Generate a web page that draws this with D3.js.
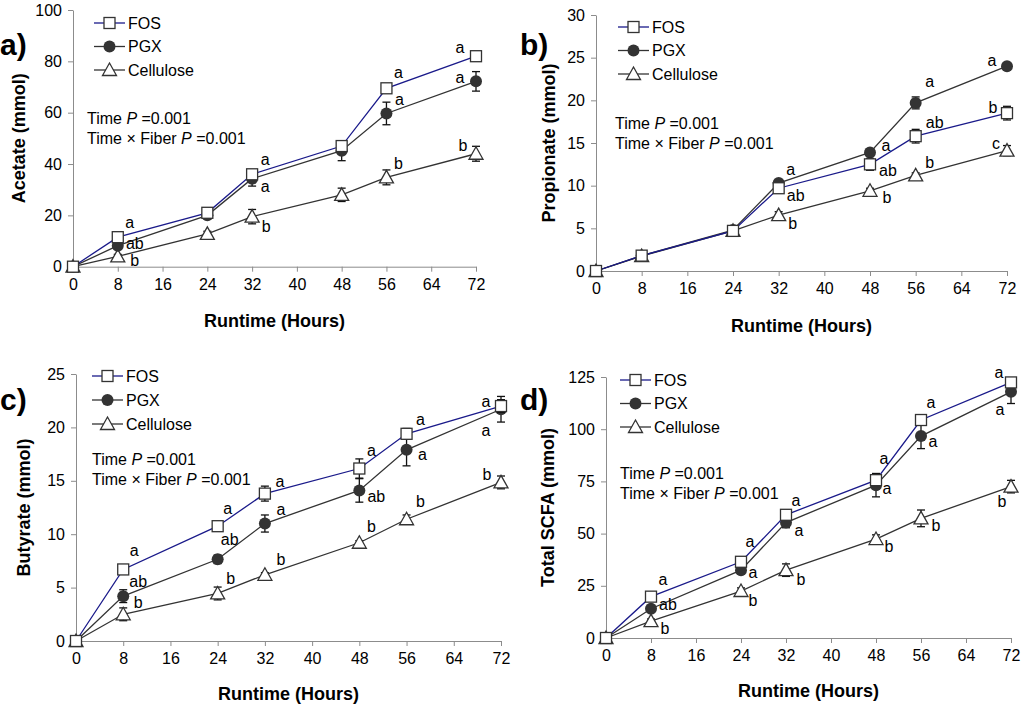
<!DOCTYPE html>
<html>
<head>
<meta charset="utf-8">
<script src="https://cdn.jsdelivr.net/npm/d3@7"></script>
<style>
    body { margin: 0; background: #fff; }
    svg { display: block; font-family: "Liberation Sans", Arial, sans-serif; }
    .axis path, .axis line { stroke: #8c8c8c; }
    .axis text { font-size: 16px; fill: #000; font-family: "Liberation Sans", Arial, sans-serif; }
</style>
</head>
<body>
<script>
// =======================
// Data
// =======================
var hours = [0, 8, 24, 32, 48, 56, 72];
var xTicks = [0, 8, 16, 24, 32, 40, 48, 56, 64, 72];
var seriesNames = ["FOS", "PGX", "Cellulose"];

// a) acetate
var acetateFOS = [0, 11.5, 21, 36, 47, 69.5, 82];
var acetateFOSErr = [0, 0.8, 0.8, 1, 1.5, 1, 0.8];
var acetatePGX = [0, 8.2, 20, 34.3, 45.2, 59.7, 72.2];
var acetatePGXErr = [0, 1, 1, 2.9, 3.9, 4.4, 3.8];
var acetateCel = [0, 4, 12.8, 19.5, 28, 34.8, 44];
var acetateCelErr = [0, 0.8, 1, 2.8, 2.6, 2.9, 2.9];
var acetateTicks = [0, 20, 40, 60, 80, 100];
var acetateLetters = [
    [null, "a", null, "a", null, "a", "a"],
    [null, "ab", null, "a", null, "a", "a"],
    [null, "b", null, "b", null, "b", "b"]
];

// b) propionate
var propFOS = [0, 1.8, 4.7, 9.7, 12.5, 15.8, 18.5];
var propFOSErr = [0, 0.2, 0.2, 0.5, 0.7, 0.8, 0.8];
var propPGX = [0, 1.8, 4.8, 10.3, 13.9, 19.7, 24.0];
var propPGXErr = [0, 0.2, 0.2, 0.3, 0.4, 0.7, 0.3];
var propCel = [0, 1.75, 4.7, 6.55, 9.4, 11.2, 14.1];
var propCelErr = [0, 0.2, 0.2, 0.4, 0.3, 0.3, 0.6];
var propTicks = [0, 5, 10, 15, 20, 25, 30];
var propLetters = [
    [null, null, null, "ab", "ab", "ab", "b"],
    [null, null, null, "a", "a", "a", "a"],
    [null, null, null, "b", "b", "b", "c"]
];

// c) butyrate
var butFOS = [0, 6.7, 10.75, 13.8, 16.15, 19.4, 22];
var butFOSErr = [0, 0.2, 0.2, 0.7, 0.9, 0.5, 0.6];
var butPGX = [0, 4.2, 7.65, 11, 14.1, 17.9, 21.7];
var butPGXErr = [0, 0.6, 0.4, 0.8, 1.1, 1.5, 1.2];
var butCel = [0, 2.5, 4.45, 6.2, 9.2, 11.4, 14.85];
var butCelErr = [0, 0.6, 0.6, 0.2, 0.2, 0.4, 0.6];
var butTicks = [0, 5, 10, 15, 20, 25];
var butLetters = [
    [null, "a", "a", "a", "a", "a", "a"],
    [null, "ab", "ab", "a", "ab", "a", "a"],
    [null, "b", "b", "b", "b", "b", "b"]
];

// d) total SCFA
var totFOS = [0, 19.8, 36.5, 59, 75.6, 104.4, 122.4];
var totFOSErr = [0, 1, 1, 1.5, 2, 1.5, 1.5];
var totPGX = [0, 14, 32.5, 55.3, 73.2, 96.7, 117.9];
var totPGXErr = [0, 1.5, 1.5, 2.5, 5.6, 6, 5.6];
var totCel = [0, 8.1, 22.5, 32.5, 47.4, 57.3, 72.5];
var totCelErr = [0, 1, 1.5, 3, 2, 4, 3];
var totTicks = [0, 25, 50, 75, 100, 125];
var totLetters = [
    [null, "a", "a", "a", "a", "a", "a"],
    [null, "ab", "a", "a", "a", "a", "a"],
    [null, "b", "b", "b", "b", "b", "b"]
];

// =======================
// Letter placement (pixel offsets from each point)
// =======================
var acetateLetterPos = [
    [null, [12, -15], null, [13, -15], null, [12, -16], [-16, -9]],
    [null, [17, -2], null, [13, 8], null, [13, -14], [-16, -4]],
    [null, [17, 4], null, [14, 10], null, [12, -14], [-13, -8]]
];
var propLetterPos = [
    [null, null, null, [17, 7], [18, 6], [19, -14], [-14, -6]],
    [null, null, null, [12, -14], [16, -7], [14, -21], [-15, -6]],
    [null, null, null, [14, 8], [17, 7], [14, -13], [-11, -7]]
];
var butLetterPos = [
    [null, [11, -19], [10, -18], [15, -12], [12, -18], [14, -14], [-15, -5]],
    [null, [15, -15], [12, -20], [16, -14], [17, 6], [16, 5], [-15, 21]],
    [null, [15, -12], [13, -15], [16, -15], [12, -16], [14, -18], [-14, -8]]
];
var totLetterPos = [
    [null, [12, -17], [9, -20], [10, -14], [8, -22], [10, -18], [-12, -10]],
    [null, [17, -4], [12, 2], [13, 8], [11, 3], [12, 5], [-11, 18]],
    [null, [14, 7], [12, 9], [15, 9], [13, 7], [15, 7], [-9, 15]]
];

window.onload = function(){

    // =======================
    // SVG container
    // =======================
    var w = 1024,
        h = 709;

    var svg = d3.select("body")
        .append("svg")
        .attr("width", w)
        .attr("height", h);

    var lineColors = ["#1a1a8a", "#333333", "#333333"];

    // =======================
    // Panels
    // =======================
    var panels = [
        {
            tag: "a)", yTitle: "Acetate (mmol)", yTicks: acetateTicks,
            x0: 73, x1: 476, yTop: 10, yBot: 266.7,
            series: [acetateFOS, acetatePGX, acetateCel],
            errs: [acetateFOSErr, acetatePGXErr, acetateCelErr],
            letters: acetateLetters, letterPos: acetateLetterPos,
            tagX: 0, tagY: 55, yTitleX: 25, xTitleY: 327,
            legX: 94, legY: 23, legStep: 23.5, statX: 87, statY: 124
        },
        {
            tag: "b)", yTitle: "Propionate (mmol)", yTicks: propTicks,
            x0: 596, x1: 1007, yTop: 15, yBot: 271,
            series: [propFOS, propPGX, propCel],
            errs: [propFOSErr, propPGXErr, propCelErr],
            letters: propLetters, letterPos: propLetterPos,
            tagX: 520, tagY: 55, yTitleX: 555, xTitleY: 332,
            legX: 618, legY: 27, legStep: 23.5, statX: 615, statY: 129
        },
        {
            tag: "c)", yTitle: "Butyrate (mmol)", yTicks: butTicks,
            x0: 76, x1: 501, yTop: 374, yBot: 641,
            series: [butFOS, butPGX, butCel],
            errs: [butFOSErr, butPGXErr, butCelErr],
            letters: butLetters, letterPos: butLetterPos,
            tagX: 0, tagY: 410, yTitleX: 30, xTitleY: 700,
            legX: 92, legY: 376, legStep: 24, statX: 92, statY: 465
        },
        {
            tag: "d)", yTitle: "Total SCFA (mmol)", yTicks: totTicks,
            x0: 606, x1: 1011, yTop: 377, yBot: 638,
            series: [totFOS, totPGX, totCel],
            errs: [totFOSErr, totPGXErr, totCelErr],
            letters: totLetters, letterPos: totLetterPos,
            tagX: 520, tagY: 410, yTitleX: 554, xTitleY: 697,
            legX: 620, legY: 380, legStep: 23.5, statX: 620, statY: 479
        }
    ];

    panels.forEach(function(p){
        var g = svg.append("g");
        var yMax = p.yTicks[p.yTicks.length - 1];

        var x = d3.scaleLinear().domain([0, 72]).range([p.x0, p.x1]);
        var y = d3.scaleLinear().domain([0, yMax]).range([p.yBot, p.yTop]);

        // axes
        g.append("g")
            .attr("class", "axis")
            .attr("transform", "translate(0," + p.yBot + ")")
            .call(d3.axisBottom(x).tickValues(xTicks).tickSize(5).tickSizeOuter(0).tickPadding(7));

        g.append("g")
            .attr("class", "axis")
            .attr("transform", "translate(" + p.x0 + ",0)")
            .call(d3.axisLeft(y).tickValues(p.yTicks).tickSize(5).tickSizeOuter(0).tickPadding(6));

        // axis titles
        g.append("text")
            .attr("x", (p.x0 + p.x1) / 2)
            .attr("y", p.xTitleY)
            .attr("text-anchor", "middle")
            .style("font-size", "18px")
            .style("font-weight", "bold")
            .text("Runtime (Hours)");

        g.append("text")
            .attr("transform", "translate(" + p.yTitleX + "," + ((p.yTop + p.yBot) / 2) + ") rotate(-90)")
            .attr("text-anchor", "middle")
            .style("font-size", "18px")
            .style("font-weight", "bold")
            .text(p.yTitle);

        // panel tag
        g.append("text")
            .attr("x", p.tagX)
            .attr("y", p.tagY)
            .style("font-size", "30px")
            .style("font-weight", "bold")
            .text(p.tag);

        // stats text
        var st1 = g.append("text").attr("x", p.statX).attr("y", p.statY).style("font-size", "16px");
        st1.append("tspan").text("Time ");
        st1.append("tspan").style("font-style", "italic").text("P");
        st1.append("tspan").text(" =0.001");
        var st2 = g.append("text").attr("x", p.statX).attr("y", p.statY + 20).style("font-size", "16px");
        st2.append("tspan").text("Time \u00d7 Fiber ");
        st2.append("tspan").style("font-style", "italic").text("P");
        st2.append("tspan").text(" =0.001");

        // lines, error bars, markers (drawn back to front: Cellulose, PGX, FOS)
        [2, 1, 0].forEach(function(s){
            var vals = p.series[s];
            var errs = p.errs[s];
            var pts = hours.map(function(hr, i){ return { h: hr, v: vals[i], e: errs[i], i: i }; });

            g.append("path")
                .datum(pts)
                .attr("fill", "none")
                .attr("stroke", lineColors[s])
                .attr("stroke-width", 1.3)
                .attr("d", d3.line().x(function(d){ return x(d.h); }).y(function(d){ return y(d.v); }));

            var eb = g.selectAll(".eb" + s)
                .data(pts.filter(function(d){ return d.e > 0; }))
                .enter()
                .append("g")
                .attr("stroke", "#111")
                .attr("stroke-width", 1.3);
            eb.append("line")
                .attr("x1", function(d){ return x(d.h); })
                .attr("x2", function(d){ return x(d.h); })
                .attr("y1", function(d){ return y(d.v - d.e); })
                .attr("y2", function(d){ return y(d.v + d.e); });
            eb.append("line")
                .attr("x1", function(d){ return x(d.h) - 4; })
                .attr("x2", function(d){ return x(d.h) + 4; })
                .attr("y1", function(d){ return y(d.v + d.e); })
                .attr("y2", function(d){ return y(d.v + d.e); });
            eb.append("line")
                .attr("x1", function(d){ return x(d.h) - 4; })
                .attr("x2", function(d){ return x(d.h) + 4; })
                .attr("y1", function(d){ return y(d.v - d.e); })
                .attr("y2", function(d){ return y(d.v - d.e); });

            pts.forEach(function(d){
                drawMarker(g, s, x(d.h), y(d.v));
            });
        });

        // significance letters
        [0, 1, 2].forEach(function(s){
            hours.forEach(function(hr, i){
                var l = p.letters[s][i];
                if (!l) return;
                var off = p.letterPos[s][i];
                g.append("text")
                    .attr("x", x(hr) + off[0])
                    .attr("y", y(p.series[s][i]) + off[1])
                    .attr("dy", "0.35em")
                    .attr("text-anchor", "middle")
                    .style("font-size", "16px")
                    .text(l);
            });
        });

        // legend
        seriesNames.forEach(function(name, s){
            var ly = p.legY + s * p.legStep;
            g.append("line")
                .attr("x1", p.legX).attr("x2", p.legX + 31)
                .attr("y1", ly).attr("y2", ly)
                .attr("stroke", lineColors[s])
                .attr("stroke-width", 1.3);
            drawMarker(g, s, p.legX + 15.5, ly);
            g.append("text")
                .attr("x", p.legX + 34)
                .attr("y", ly)
                .attr("dy", "0.35em")
                .style("font-size", "16px")
                .text(name);
        });
    });

    // =======================
    // Marker helper
    // =======================
    function drawMarker(g, s, cx, cy){
        if (s === 0) {
            g.append("rect")
                .attr("x", cx - 5.5).attr("y", cy - 5.5)
                .attr("width", 11).attr("height", 11)
                .attr("fill", "#fff")
                .attr("stroke", "#333")
                .attr("stroke-width", 1.3);
        } else if (s === 1) {
            g.append("circle")
                .attr("cx", cx).attr("cy", cy)
                .attr("r", 6)
                .attr("fill", "#333");
        } else {
            g.append("path")
                .attr("d", "M" + cx + "," + (cy - 7) + "L" + (cx + 7) + "," + (cy + 5.5) + "L" + (cx - 7) + "," + (cy + 5.5) + "Z")
                .attr("fill", "#fff")
                .attr("stroke", "#333")
                .attr("stroke-width", 1.3);
        }
    }
};
</script>
</body>
</html>
